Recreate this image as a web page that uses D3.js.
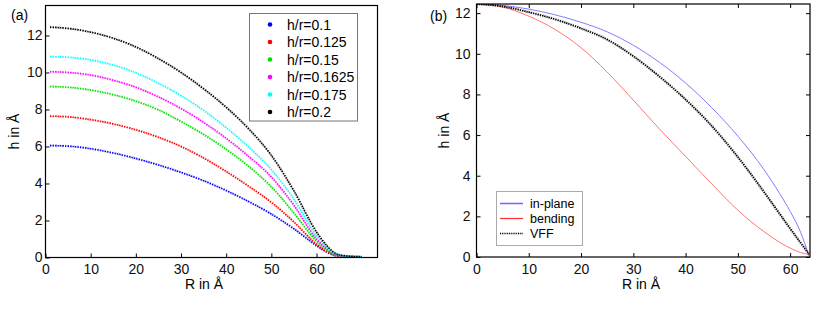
<!DOCTYPE html>
<html>
<head>
<meta charset="utf-8">
<script src="https://cdn.jsdelivr.net/npm/d3@7"></script>
<style>
  body { margin: 0; background: #fff; }
  svg { display: block; font-family: 'Liberation Sans', Arial, sans-serif; }
  .axis path { display: none; }
  .axis line { stroke: #000; }
  .axis text { font-size: 14px; fill: #111; font-family: 'Liberation Sans', Arial, sans-serif; }
</style>
</head>
<body>
<svg id="fig" width="822" height="318"></svg>
<script>
// ---- panel (a): height profiles for several h/r ratios
const radiiA = [1, 5, 10, 15, 20, 25, 30, 35, 40, 45, 50, 55, 60, 62, 64, 66, 70];
const ratioLabels = ['h/r=0.1', 'h/r=0.125', 'h/r=0.15', 'h/r=0.1625', 'h/r=0.175', 'h/r=0.2'];
const ratioColors = ['#0000ff', '#ff0000', '#00e000', '#ff00ff', '#00ffff', '#000000'];
const h010 = [6.05, 6.02, 5.88, 5.65, 5.35, 5.0, 4.6, 4.15, 3.62, 3.02, 2.35, 1.55, 0.64, 0.33, 0.12, 0.05, 0.02];
const h0125 = [7.64, 7.6, 7.45, 7.22, 6.9, 6.5, 6.0, 5.38, 4.65, 3.85, 2.98, 1.92, 0.72, 0.37, 0.13, 0.05, 0.02];
const h015 = [9.24, 9.2, 9.05, 8.8, 8.45, 7.98, 7.35, 6.65, 5.85, 4.92, 3.82, 2.4, 0.88, 0.46, 0.15, 0.06, 0.02];
const h01625 = [10.04, 10.0, 9.86, 9.58, 9.2, 8.68, 8.05, 7.3, 6.44, 5.46, 4.35, 2.82, 1.0, 0.52, 0.18, 0.07, 0.02];
const h0175 = [10.86, 10.82, 10.68, 10.4, 9.98, 9.42, 8.75, 7.95, 7.02, 5.96, 4.75, 3.15, 1.17, 0.62, 0.22, 0.08, 0.03];
const h020 = [12.45, 12.38, 12.18, 11.85, 11.38, 10.75, 10.0, 9.12, 8.12, 6.95, 5.52, 3.6, 1.38, 0.72, 0.25, 0.1, 0.04];
const seriesA = [h010, h0125, h015, h01625, h0175, h020];

// ---- panel (b): in-plane / bending models against VFF
const radiiB = [0, 5, 10, 15, 20, 25, 30, 35, 40, 45, 50, 55, 58, 60, 62, 63.6];
const inPlane = [12.45, 12.38, 12.2, 11.92, 11.55, 11.08, 10.42, 9.58, 8.56, 7.35, 5.95, 4.3, 3.12, 2.25, 1.22, 0.05];
const bending = [12.45, 12.3, 11.85, 11.2, 10.3, 9.1, 7.72, 6.3, 4.95, 3.6, 2.3, 1.25, 0.72, 0.44, 0.22, 0.12];
const vff = [12.45, 12.33, 12.05, 11.7, 11.25, 10.7, 9.88, 8.88, 7.75, 6.45, 4.92, 3.2, 2.12, 1.4, 0.7, 0.15];
const modelLabels = ['in-plane', 'bending', 'VFF'];

const xTicks = [0, 10, 20, 30, 40, 50, 60];
const yTicks = [0, 2, 4, 6, 8, 10, 12];

const svg = d3.select('#fig');

function drawFrame(g, x, y, mirror) {
  const [x0, x1] = x.range();
  const [y0, y1] = y.range();

  g.append('g').attr('class', 'axis x-axis')
    .attr('transform', `translate(0,${y0})`)
    .call(d3.axisBottom(x).tickValues(xTicks).tickSizeInner(-4).tickSizeOuter(0).tickPadding(7));
  g.append('g').attr('class', 'axis y-axis')
    .attr('transform', `translate(${x0},0)`)
    .call(d3.axisLeft(y).tickValues(yTicks).tickSizeInner(-4).tickSizeOuter(0).tickPadding(mirror ? 6 : 3));

  if (mirror) {
    g.append('g').attr('class', 'axis')
      .attr('transform', `translate(0,${y1})`)
      .call(d3.axisTop(x).tickValues(xTicks).tickSizeInner(-4).tickSizeOuter(0).tickFormat(''));
    g.append('g').attr('class', 'axis')
      .attr('transform', `translate(${x1},0)`)
      .call(d3.axisRight(y).tickValues(yTicks).tickSizeInner(-4).tickSizeOuter(0).tickFormat(''));
  }

  g.append('rect')
    .attr('x', x0).attr('y', y1)
    .attr('width', x1 - x0).attr('height', y0 - y1)
    .attr('fill', 'none').attr('stroke', '#000').attr('stroke-width', 1.2);
}

function axisLabels(g, x, y, cxLabel, yLabelX) {
  const [y0, y1] = y.range();
  g.append('text').attr('x', cxLabel).attr('y', 289)
    .attr('text-anchor', 'middle').style('font-size', '14px').text('R in Å');
  g.append('text')
    .attr('transform', `translate(${yLabelX},${(y0 + y1) / 2}) rotate(-90)`)
    .attr('text-anchor', 'middle').style('font-size', '14px').text('h in Å');
}

// ---------------- panel (a)
const xA = d3.scaleLinear().domain([0, 73.5]).range([45.5, 377.5]);
const yA = d3.scaleLinear().domain([0, 13.62]).range([257.5, 5.5]);
const gA = svg.append('g');

gA.append('clipPath').attr('id', 'clipA').append('rect')
  .attr('x', 45.5).attr('y', 5.5).attr('width', 332).attr('height', 252);

const lineA = d3.line()
  .x((d) => xA(d[0]))
  .y((d) => yA(d[1]))
  .curve(d3.curveMonotoneX);

const plotA = gA.append('g').attr('clip-path', 'url(#clipA)');
seriesA.forEach((vals, i) => {
  const pts = radiiA.map((r, j) => [r, vals[j]]);
  // spread of the scatter cloud
  plotA.append('path').datum(pts)
    .attr('d', lineA)
    .attr('fill', 'none')
    .attr('stroke', ratioColors[i])
    .attr('stroke-width', 2.6)
    .attr('stroke-opacity', 0.35)
    .attr('stroke-dasharray', '1 2');
  plotA.append('path').datum(pts)
    .attr('d', lineA)
    .attr('fill', 'none')
    .attr('stroke', ratioColors[i])
    .attr('stroke-width', 1.6)
    .attr('stroke-dasharray', '1.4 1.1');
});

drawFrame(gA, xA, yA, false);
axisLabels(gA, xA, yA, 204, 19);

gA.append('text').attr('x', 11).attr('y', 20).style('font-size', '14px').text('(a)');

const legA = gA.append('g');
legA.append('rect')
  .attr('x', 249.5).attr('y', 13.5).attr('width', 108).attr('height', 107.5)
  .attr('fill', '#fff').attr('stroke', '#777').attr('stroke-width', 1);
ratioLabels.forEach((lab, i) => {
  const cy = 24.5 + i * 17.5;
  legA.append('circle').attr('cx', 270).attr('cy', cy).attr('r', 2.3).attr('fill', ratioColors[i]);
  legA.append('text').attr('x', 287).attr('y', cy + 5)
    .style('font-size', '14px').text(lab);
});

// ---------------- panel (b)
const xB = d3.scaleLinear().domain([0, 63.8]).range([476.5, 810]);
const yB = d3.scaleLinear().domain([0, 12.45]).range([257, 4]);
const gB = svg.append('g');

gB.append('clipPath').attr('id', 'clipB').append('rect')
  .attr('x', 476.5).attr('y', 4).attr('width', 333.5).attr('height', 253);

const lineB = d3.line()
  .x((d) => xB(d[0]))
  .y((d) => yB(d[1]))
  .curve(d3.curveMonotoneX);

const plotB = gB.append('g').attr('clip-path', 'url(#clipB)');
const toPts = (vals) => radiiB.map((r, j) => [r, vals[j]]);

plotB.append('path').datum(toPts(inPlane)).attr('d', lineB)
  .attr('fill', 'none').attr('stroke', '#6f6fff').attr('stroke-width', 0.9);
plotB.append('path').datum(toPts(bending)).attr('d', lineB)
  .attr('fill', 'none').attr('stroke', '#ff6565').attr('stroke-width', 0.9);
plotB.append('path').datum(toPts(vff)).attr('d', lineB)
  .attr('fill', 'none').attr('stroke', '#000').attr('stroke-width', 3)
  .attr('stroke-opacity', 0.3).attr('stroke-dasharray', '1 1.6');
plotB.append('path').datum(toPts(vff)).attr('d', lineB)
  .attr('fill', 'none').attr('stroke', '#000').attr('stroke-width', 1.7)
  .attr('stroke-dasharray', '1.3 1');

drawFrame(gB, xB, yB, true);
axisLabels(gB, xB, yB, 641, 449);

gB.append('text').attr('x', 430).attr('y', 21).style('font-size', '14px').text('(b)');

const legB = gB.append('g');
legB.append('rect')
  .attr('x', 496.5).attr('y', 191.5).attr('width', 86).attr('height', 54)
  .attr('fill', '#fff').attr('stroke', '#aaa').attr('stroke-width', 1);
const legStyles = [
  { stroke: '#6f6fff', width: 1.6, dash: null },
  { stroke: '#ff3030', width: 1.2, dash: null },
  { stroke: '#000', width: 1.6, dash: '1 0.8' },
];
modelLabels.forEach((lab, i) => {
  const cy = 203.5 + i * 15;
  const ln = legB.append('line')
    .attr('x1', 500).attr('x2', 523).attr('y1', cy).attr('y2', cy)
    .attr('stroke', legStyles[i].stroke).attr('stroke-width', legStyles[i].width);
  if (legStyles[i].dash) ln.attr('stroke-dasharray', legStyles[i].dash);
  legB.append('text').attr('x', 530).attr('y', cy + 4.5)
    .style('font-size', '12.5px').text(lab);
});
</script>
</body>
</html>
